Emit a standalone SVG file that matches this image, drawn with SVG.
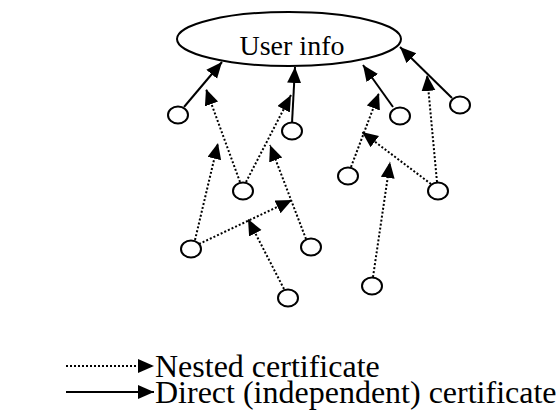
<svg xmlns="http://www.w3.org/2000/svg" width="560" height="414" viewBox="0 0 560 414">
<style>
.n ellipse{fill:#fff;stroke:#000;stroke-width:2}
.c line{stroke:#000;stroke-width:2;fill:none}
.c .d{stroke-dasharray:2 2;marker-end:url(#ah)}
.c .s{marker-end:url(#ah)}
.t{font-family:'Liberation Serif','Times New Roman',Times,'DejaVu Serif',serif;fill:#000}
</style>
<defs>
<marker id="ah" markerUnits="userSpaceOnUse" markerWidth="17" markerHeight="15" refX="16" refY="7" orient="auto">
<path d="M0,0 L16,7 L0,14 Z" fill="#000"/>
</marker>
</defs>
<g id="connectors" class="c">
<line class="s" x1="184" y1="107" x2="222" y2="62"/>
<line class="s" x1="292" y1="123" x2="295" y2="67"/>
<line class="s" x1="393" y1="107" x2="363" y2="65"/>
<line class="s" x1="452" y1="98" x2="400" y2="47"/>
<line class="d" x1="240" y1="182" x2="206" y2="89"/>
<line class="d" x1="246" y1="182" x2="291" y2="95"/>
<line class="d" x1="195" y1="240" x2="218" y2="143"/>
<line class="d" x1="199" y1="244" x2="292" y2="200"/>
<line class="d" x1="306" y1="239" x2="270" y2="145"/>
<line class="d" x1="284" y1="289" x2="248" y2="219"/>
<line class="d" x1="351" y1="167" x2="379" y2="93"/>
<line class="d" x1="431" y1="184" x2="362" y2="132"/>
<line class="d" x1="437" y1="182" x2="427" y2="75"/>
<line class="d" x1="373" y1="277" x2="390" y2="162"/>
<line class="d" x1="66" y1="366" x2="154" y2="366"/>
<line class="s" x1="66" y1="392" x2="154" y2="392"/>
</g>
<g id="user-info" class="n">
<ellipse cx="289" cy="39" rx="112" ry="27"/>
<text class="t" x="292" y="55" font-size="28" text-anchor="middle">User info</text>
</g>
<g id="n1" class="n"><ellipse cx="178" cy="115" rx="10" ry="8.5"/></g>
<g id="n2" class="n"><ellipse cx="292" cy="131" rx="10" ry="8.5"/></g>
<g id="n3" class="n"><ellipse cx="400" cy="116" rx="10" ry="8.5"/></g>
<g id="n4" class="n"><ellipse cx="460" cy="105" rx="10" ry="8.5"/></g>
<g id="n5" class="n"><ellipse cx="243" cy="191" rx="10" ry="8.5"/></g>
<g id="n6" class="n"><ellipse cx="348" cy="176" rx="10" ry="8.5"/></g>
<g id="n7" class="n"><ellipse cx="438" cy="191" rx="10" ry="8.5"/></g>
<g id="n8" class="n"><ellipse cx="191" cy="249" rx="10" ry="8.5"/></g>
<g id="n9" class="n"><ellipse cx="311" cy="247" rx="10" ry="8.5"/></g>
<g id="n10" class="n"><ellipse cx="288" cy="298" rx="10" ry="8.5"/></g>
<g id="n11" class="n"><ellipse cx="372" cy="286" rx="10" ry="8.5"/></g>
<g id="legend">
<text class="t" x="155" y="377" font-size="32">Nested certificate</text>
<text class="t" x="155" y="403" font-size="32">Direct (independent) certificate</text>
</g>
</svg>
